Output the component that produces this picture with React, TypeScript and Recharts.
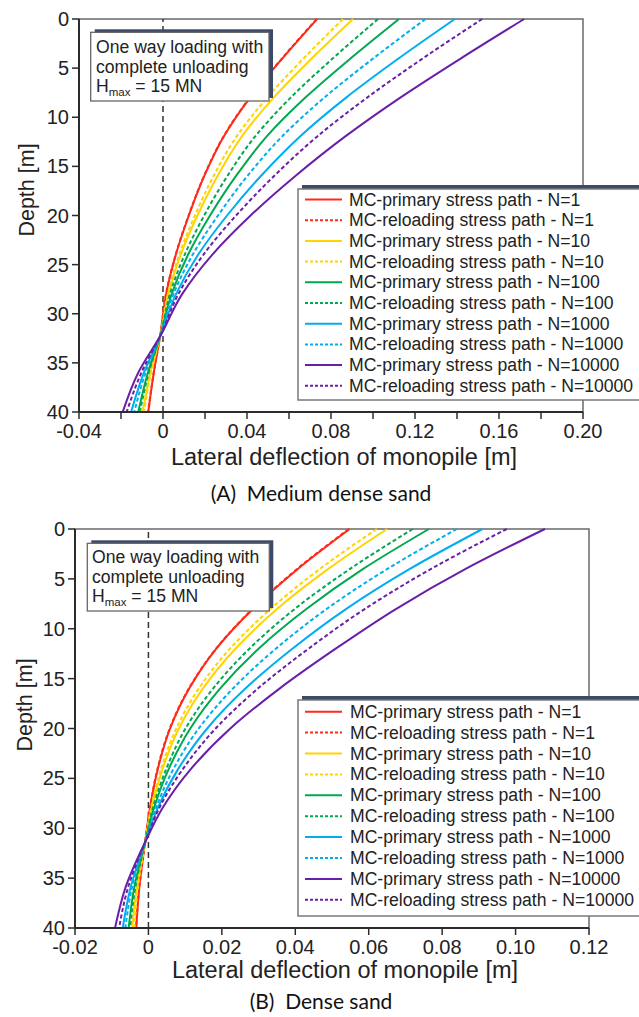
import React from 'react';
import { LineChart, Line, XAxis, YAxis, ReferenceLine, ReferenceArea } from 'recharts';

// ---------- depths [m] ----------
const depthsA = [0, 4, 8, 12, 16, 20, 24, 28, 32.3, 36, 40];
const depthsB = [0, 4, 8, 12, 16, 20, 24, 28, 31.4, 36, 40];

// ---------- (A) Medium dense sand: lateral deflection [m] ----------
const aPrimaryN1 = [0.0734, 0.0569, 0.0415, 0.0288, 0.0196, 0.0123, 0.0061, 0.0015, -0.0014, -0.0044, -0.007];
const aReloadN1 = [0.0732, 0.0567, 0.0413, 0.0287, 0.0195, 0.0122, 0.006, 0.0014, -0.0014, -0.0044, -0.0071];
const aPrimaryN10 = [0.0905, 0.0709, 0.0527, 0.0374, 0.0259, 0.0164, 0.0084, 0.0026, -0.0014, -0.006, -0.0097];
const aReloadN10 = [0.0857, 0.067, 0.0496, 0.0349, 0.024, 0.0152, 0.0077, 0.0023, -0.0014, -0.0057, -0.009];
const aPrimaryN100 = [0.1124, 0.0894, 0.0678, 0.0492, 0.0347, 0.0224, 0.0119, 0.0041, -0.0014, -0.0072, -0.0118];
const aReloadN100 = [0.1024, 0.0809, 0.0608, 0.0437, 0.0306, 0.0196, 0.0103, 0.0033, -0.0014, -0.0068, -0.011];
const aPrimaryN1000 = [0.139, 0.1123, 0.0872, 0.065, 0.0465, 0.0305, 0.0167, 0.0062, -0.0014, -0.0091, -0.0152];
const aReloadN1000 = [0.125, 0.1002, 0.0768, 0.0565, 0.0401, 0.0262, 0.0141, 0.005, -0.0014, -0.0083, -0.0137];
const aPrimaryN10000 = [0.172, 0.1419, 0.113, 0.0865, 0.0629, 0.0417, 0.0234, 0.0091, -0.0014, -0.0118, -0.0192];
const aReloadN10000 = [0.152, 0.1238, 0.0972, 0.0732, 0.0528, 0.0348, 0.0192, 0.0073, -0.0014, -0.0103, -0.0173];

// ---------- (B) Dense sand: lateral deflection [m] ----------
const bPrimaryN1 = [0.0548, 0.0407, 0.0285, 0.0185, 0.0111, 0.0059, 0.0026, 0.0004, -0.0009, -0.0025, -0.0033];
const bReloadN1 = [0.0546, 0.0405, 0.0284, 0.0184, 0.011, 0.0058, 0.0025, 0.0004, -0.0009, -0.0025, -0.0034];
const bPrimaryN10 = [0.065, 0.049, 0.0351, 0.0237, 0.0148, 0.0083, 0.0039, 0.0009, -0.0009, -0.0032, -0.0044];
const bReloadN10 = [0.0622, 0.0467, 0.0333, 0.0222, 0.0137, 0.0076, 0.0035, 0.0007, -0.0009, -0.0029, -0.0039];
const bPrimaryN100 = [0.0764, 0.0585, 0.0431, 0.03, 0.0195, 0.0114, 0.0056, 0.0015, -0.0009, -0.0039, -0.0054];
const bReloadN100 = [0.072, 0.0549, 0.0399, 0.0275, 0.0176, 0.0101, 0.0049, 0.0012, -0.0009, -0.0036, -0.005];
const bPrimaryN1000 = [0.091, 0.0712, 0.0539, 0.0392, 0.0264, 0.016, 0.0082, 0.0025, -0.0009, -0.0049, -0.007];
const bReloadN1000 = [0.084, 0.0651, 0.0486, 0.0347, 0.023, 0.0137, 0.0069, 0.002, -0.0009, -0.0045, -0.0063];
const bPrimaryN10000 = [0.108, 0.0864, 0.0675, 0.051, 0.0357, 0.0223, 0.0117, 0.0038, -0.0009, -0.0063, -0.0091];
const bReloadN10000 = [0.0976, 0.077, 0.059, 0.0436, 0.0298, 0.0183, 0.0095, 0.0029, -0.0009, -0.0056, -0.008];

// ---------- series meta ----------
const seriesKeys = ['p1', 'r1', 'p10', 'r10', 'p100', 'r100', 'p1000', 'r1000', 'p10000', 'r10000'];
const seriesNames = [
  'MC-primary stress path - N=1',
  'MC-reloading stress path - N=1',
  'MC-primary stress path - N=10',
  'MC-reloading stress path - N=10',
  'MC-primary stress path - N=100',
  'MC-reloading stress path - N=100',
  'MC-primary stress path - N=1000',
  'MC-reloading stress path - N=1000',
  'MC-primary stress path - N=10000',
  'MC-reloading stress path - N=10000',
];
const seriesColors = ['#ff2a1a', '#ff2a1a', '#ffd400', '#ffd400', '#00a94f', '#00a94f', '#00aeef', '#00aeef', '#6a1fa8', '#6a1fa8'];
const seriesDashed = [false, true, false, true, false, true, false, true, false, true];

// ---------- ticks ----------
const xTicksA = [-0.04, -0.02, 0, 0.02, 0.04, 0.06, 0.08, 0.1, 0.12, 0.14, 0.16, 0.18, 0.2];
const xTickLabelsA = ['-0.04', '', '0', '', '0.04', '', '0.08', '', '0.12', '', '0.16', '', '0.20'];
const xTicksB = [-0.02, 0, 0.02, 0.04, 0.06, 0.08, 0.1, 0.12];
const xTickLabelsB = ['-0.02', '0', '0.02', '0.04', '0.06', '0.08', '0.10', '0.12'];
const yTicks = [0, 5, 10, 15, 20, 25, 30, 35, 40];
const yTickLabels = ['0', '5', '10', '15', '20', '25', '30', '35', '40'];

const seriesA = [aPrimaryN1, aReloadN1, aPrimaryN10, aReloadN10, aPrimaryN100, aReloadN100, aPrimaryN1000, aReloadN1000, aPrimaryN10000, aReloadN10000];
const seriesB = [bPrimaryN1, bReloadN1, bPrimaryN10, bReloadN10, bPrimaryN100, bReloadN100, bPrimaryN1000, bReloadN1000, bPrimaryN10000, bReloadN10000];

function buildRows(depths: number[], series: number[][]) {
  return depths.map((d, i) => {
    const row: Record<string, number> = { depth: d };
    seriesKeys.forEach((k, j) => {
      row[k] = series[j][i];
    });
    return row;
  });
}

const rowsA = buildRows(depthsA, seriesA);
const rowsB = buildRows(depthsB, seriesB);

const FONT = '"Liberation Sans", Arial, Helvetica, sans-serif';
const CAPTION_FONT = 'Lato, "Open Sans", sans-serif';
const AXIS_COLOR = '#2b2b2b';
const SHADOW = '#3c4a68';

type PanelProps = {
  rows: Record<string, number>[];
  xDomain: [number, number];
  xTicks: number[];
  xLabels: string[];
  top: number;
  margin: { top: number; right: number; bottom: number; left: number };
};

function Panel({ rows, xDomain, xTicks, xLabels, top, margin }: PanelProps) {
  return (
    <div style={{ position: 'absolute', left: 0, top, width: 639, height: 470 }}>
      <LineChart width={639} height={470} data={rows} layout="vertical" margin={margin}>
        <ReferenceArea
          x1={xDomain[0]}
          x2={xDomain[1]}
          y1={0}
          y2={40}
          fill="none"
          stroke="#6a6a6a"
          strokeWidth={1.5}
          ifOverflow="visible"
        />
        <XAxis
          type="number"
          domain={xDomain}
          ticks={xTicks}
          interval={0}
          allowDataOverflow
          height={40}
          tickSize={7}
          tickMargin={5}
          tickFormatter={(_v: number, i: number) => xLabels[i]}
          tick={{ fill: '#222', fontSize: 20, fontFamily: FONT }}
          axisLine={{ stroke: AXIS_COLOR, strokeWidth: 2 }}
          tickLine={{ stroke: AXIS_COLOR, strokeWidth: 1.5 }}
        />
        <YAxis
          type="number"
          dataKey="depth"
          domain={[0, 40]}
          ticks={yTicks}
          interval={0}
          width={60}
          tickSize={7}
          tickMargin={3}
          tickFormatter={(_v: number, i: number) => yTickLabels[i]}
          tick={{ fill: '#222', fontSize: 20, fontFamily: FONT }}
          axisLine={{ stroke: AXIS_COLOR, strokeWidth: 2 }}
          tickLine={{ stroke: AXIS_COLOR, strokeWidth: 1.5 }}
        />
        <ReferenceLine x={0} stroke="#333" strokeWidth={1.5} strokeDasharray="6 4" />
        {seriesKeys.map((k, j) => (
          <Line
            key={k}
            dataKey={k}
            name={seriesNames[j]}
            type="monotone"
            stroke={seriesColors[j]}
            strokeWidth={2}
            strokeDasharray={seriesDashed[j] ? '4 2.5' : undefined}
            dot={false}
            activeDot={false}
            isAnimationActive={false}
          />
        ))}
      </LineChart>
    </div>
  );
}

function LegendBox({ x, y, w, h, rowY0, rowStep, textX }: { x: number; y: number; w: number; h: number; rowY0: number; rowStep: number; textX: number }) {
  return (
    <g>
      <rect x={x + 4} y={y - 4} width={w} height={h} fill={SHADOW} />
      <rect x={x} y={y} width={w} height={h} fill="#fff" stroke="#7a7a7a" strokeWidth={1.5} />
      {seriesNames.map((n, i) => {
        const cy = rowY0 + i * rowStep;
        return (
          <g key={n}>
            <line
              x1={x + 7}
              x2={x + 44}
              y1={cy}
              y2={cy}
              stroke={seriesColors[i]}
              strokeWidth={2}
              strokeDasharray={seriesDashed[i] ? '3 2' : undefined}
            />
            <text x={textX} y={cy} dominantBaseline="central" fontSize={17.6} fontFamily={FONT} fill="#222">
              {n}
            </text>
          </g>
        );
      })}
    </g>
  );
}

function NoteBox({ x, y, w, h, tx, baselines }: { x: number; y: number; w: number; h: number; tx: number; baselines: number[] }) {
  return (
    <g>
      <rect x={x + 4} y={y - 3} width={w} height={h} fill={SHADOW} />
      <rect x={x} y={y} width={w} height={h} fill="#fff" stroke="#666" strokeWidth={1.3} />
      <text x={tx} y={baselines[0]} fontSize={17.6} fontFamily={FONT} fill="#222">One way loading with</text>
      <text x={tx} y={baselines[1]} fontSize={17.6} fontFamily={FONT} fill="#222">complete unloading</text>
      <text x={tx} y={baselines[2]} fontSize={17.6} fontFamily={FONT} fill="#222">
        <tspan>H</tspan>
        <tspan fontSize={11.5} dy={4}>max</tspan>
        <tspan dy={-4}> = 15 MN</tspan>
      </text>
    </g>
  );
}

export default function App() {
  return (
    <div style={{ position: 'absolute', left: 0, top: 0, width: 639, height: 1017, background: '#fff', overflow: 'hidden' }}>
      <Panel rows={rowsA} xDomain={[-0.04, 0.2]} xTicks={xTicksA} xLabels={xTickLabelsA} top={0} margin={{ top: 19, right: 56, bottom: 18, left: 19 }} />
      <Panel rows={rowsB} xDomain={[-0.02, 0.12]} xTicks={xTicksB} xLabels={xTickLabelsB} top={510} margin={{ top: 19, right: 50, bottom: 12, left: 15 }} />
      <svg width={639} height={1017} style={{ position: 'absolute', left: 0, top: 0, pointerEvents: 'none' }}>
        <NoteBox x={90.7} y={32.3} w={178.3} h={68.7} tx={96} baselines={[53, 73, 92]} />
        <NoteBox x={87.3} y={543.3} w={182} h={67.7} tx={92} baselines={[563, 583, 602]} />
        <LegendBox x={298} y={189} w={360} h={211} rowY0={199.5} rowStep={20.7} textX={349} />
        <LegendBox x={298} y={700} w={360} h={216} rowY0={711.7} rowStep={20.9} textX={350} />

        <text x={27} y={190} transform="rotate(-90 27 190)" textAnchor="middle" dominantBaseline="central" fontSize={21.5} fontFamily={FONT} fill="#222">Depth [m]</text>
        <text x={344} y={457} textAnchor="middle" dominantBaseline="central" fontSize={23.5} fontFamily={FONT} fill="#222">Lateral deflection of monopile [m]</text>
        <text x={321} y={492} textAnchor="middle" dominantBaseline="central" fontSize={21} fontFamily={CAPTION_FONT} fill="#111">{'(A)\u00A0\u00A0Medium dense sand'}</text>

        <text x={25} y={705} transform="rotate(-90 25 705)" textAnchor="middle" dominantBaseline="central" fontSize={21.5} fontFamily={FONT} fill="#222">Depth [m]</text>
        <text x={345} y={970} textAnchor="middle" dominantBaseline="central" fontSize={23.5} fontFamily={FONT} fill="#222">Lateral deflection of monopile [m]</text>
        <text x={321} y={1000} textAnchor="middle" dominantBaseline="central" fontSize={21} fontFamily={CAPTION_FONT} fill="#111">{'(B)\u00A0\u00A0Dense sand'}</text>
      </svg>
    </div>
  );
}
